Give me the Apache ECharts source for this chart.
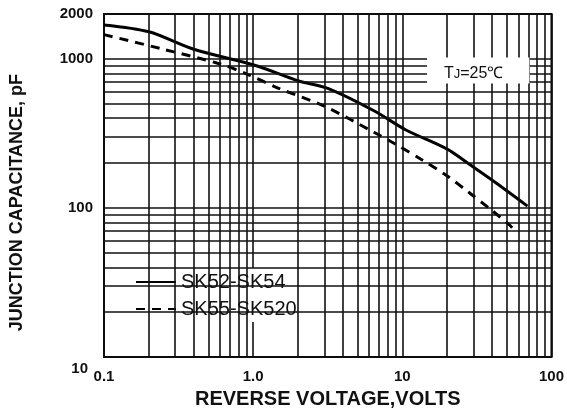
<!DOCTYPE html>
<html>
<head>
<meta charset="utf-8">
<script src="https://cdn.jsdelivr.net/npm/echarts@6/dist/echarts.min.js"></script>
<style>html,body{margin:0;padding:0;background:#fff;}#c{width:567px;height:414px;}</style>
</head>
<body>
<div id="c"></div>
<script>
// Reverse voltage (V) and junction capacitance (pF)
const solidName = 'SK52-SK54';
const solidV = [0.1, 0.2, 0.4, 1.05, 2.0, 3.2, 6.5, 10.5, 20, 28, 43, 69];
const solidC = [1690, 1520, 1160, 900, 714, 632, 447, 335, 248, 197, 146, 103];

const dashName = 'SK55-SK520';
const dashV = [0.1, 0.25, 0.6, 0.9, 1.5, 3.0, 6.5, 9.3, 13.6, 20, 28, 39, 53, 58];
const dashC = [1455, 1160, 925, 794, 632, 482, 321, 263, 210, 164, 127, 98, 76, 68];

const xTickValues = [0.1, 1, 10, 100];
const xTickLabels = ['0.1', '1.0', '10', '100'];
const yTickValues = [10, 100, 1000, 2000];
const yTickLabels = ['10', '100', '1000', '2000'];

const xMinorGrid = [0.2,0.3,0.4,0.5,0.6,0.7,0.8,0.9, 2,3,4,5,6,7,8,9, 20,30,40,50,60,70,80,90];
const yMinorGrid = [20,30,40,50,60,70,80,90, 200,300,400,500,600,700,800,900];

const xTitle = 'REVERSE VOLTAGE,VOLTS';
const yTitle = 'JUNCTION CAPACITANCE, pF';
const tempLabel = ['T', 'J', '=25℃'];

function pick(vals, labels) {
  return function (v) {
    const i = vals.findIndex(t => Math.abs(t - v) / t < 1e-6);
    return i >= 0 ? labels[i] : '';
  };
}
const pairs = (xs, ys) => xs.map((x, i) => [x, ys[i]]);

const FONT = '"Liberation Sans", Arial, Helvetica, sans-serif';
const gridLine = { color: '#111', width: 1.6, type: 'solid' };
const yLabelFmt = pick(yTickValues, yTickLabels);

const chart = echarts.init(document.getElementById('c'), null, { renderer: 'canvas' });
chart.setOption({
  animation: false,
  backgroundColor: '#fff',
  grid: { left: 103, right: 11, top: 14, bottom: 50, show: true, borderColor: '#000', borderWidth: 2, backgroundColor: 'transparent' },
  title: {
    text: '{a|' + tempLabel[0] + '}{b|' + tempLabel[1] + '}{a|' + tempLabel[2] + '}',
    left: 427, top: 58,
    backgroundColor: '#fff',
    padding: [8, 26, 2, 17],
    textStyle: {
      rich: {
        a: { fontFamily: FONT, fontSize: 16, color: '#111', fontWeight: 'normal', lineHeight: 15 },
        b: { fontFamily: FONT, fontSize: 13, color: '#111', fontWeight: 'normal', lineHeight: 15, verticalAlign: 'bottom' }
      }
    }
  },
  legend: {
    data: [solidName, dashName],
    orient: 'vertical',
    left: 124, top: 268,
    backgroundColor: '#fff',
    padding: [4, 47, 3, 11],
    itemWidth: 40, itemHeight: 14, itemGap: 7,
    itemStyle: { opacity: 0 },
    lineStyle: { width: 2 },
    textStyle: { fontFamily: FONT, fontSize: 20, color: '#111' }
  },
  xAxis: {
    type: 'log', logBase: 10, min: 0.1, max: 100,
    name: xTitle, nameLocation: 'middle', nameGap: 30,
    nameTextStyle: { fontFamily: FONT, fontSize: 20, fontWeight: 'bold', color: '#111' },
    axisLine: { show: false }, axisTick: { show: false },
    axisLabel: { fontFamily: FONT, fontSize: 15, fontWeight: 'bold', color: '#111', margin: 12, formatter: pick(xTickValues, xTickLabels), showMinLabel: true, showMaxLabel: true },
    splitLine: { show: true, lineStyle: gridLine }
  },
  yAxis: {
    type: 'log', logBase: 10, min: 10, max: 2000,
    name: yTitle, nameLocation: 'middle', nameGap: 78,
    nameTextStyle: { fontFamily: FONT, fontSize: 18, fontWeight: 'bold', color: '#111', padding: [0, 34, 0, 0] },
    axisLine: { show: false }, axisTick: { show: false },
    axisLabel: {
      fontFamily: FONT, fontSize: 15, fontWeight: 'bold', color: '#111', margin: 11,
      formatter: function (v) {
        const s = yLabelFmt(v);
        return s === yTickLabels[0] ? '{lo|' + s + '}' : s;
      },
      rich: { lo: { fontFamily: FONT, fontSize: 15, fontWeight: 'bold', color: '#111', padding: [24, 5, 0, 0] } },
      showMinLabel: true, showMaxLabel: true
    },
    splitLine: { show: true, lineStyle: gridLine }
  },
  series: [
    {
      name: 'grid', type: 'line', data: [], z: 1, silent: true,
      markLine: {
        silent: true, symbol: 'none', animation: false,
        label: { show: false },
        lineStyle: gridLine,
        data: xMinorGrid.map(v => ({ xAxis: v })).concat(yMinorGrid.map(v => ({ yAxis: v })))
      }
    },
    {
      name: solidName, type: 'line', z: 3, showSymbol: false, symbol: 'none', smooth: 0.3,
      lineStyle: { color: '#000', width: 3, type: 'solid' },
      itemStyle: { color: '#000' },
      data: pairs(solidV, solidC)
    },
    {
      name: dashName, type: 'line', z: 3, showSymbol: false, symbol: 'none', smooth: 0.3,
      lineStyle: { color: '#000', width: 3, type: [9, 7] },
      itemStyle: { color: '#000' },
      data: pairs(dashV, dashC)
    }
  ]
});
</script>
</body>
</html>
